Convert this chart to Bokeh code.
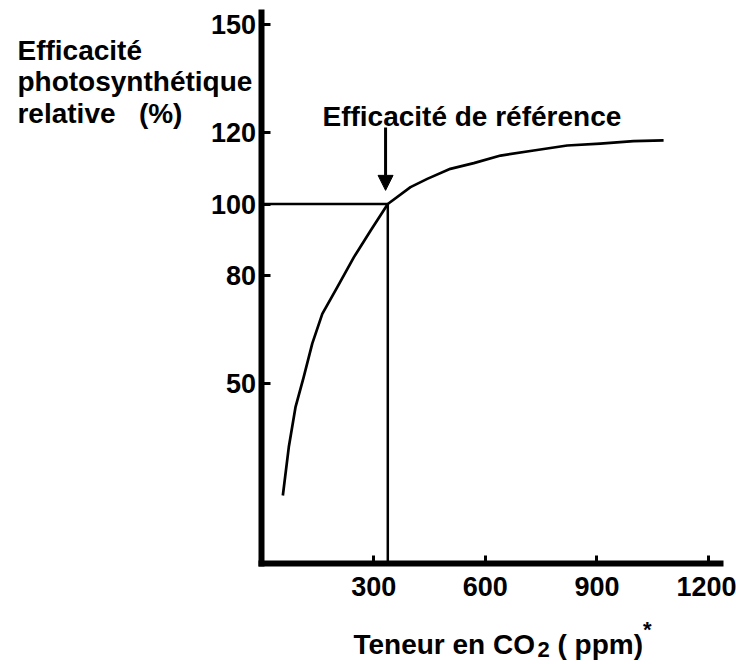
from bokeh.plotting import figure
from bokeh.models import Range1d, FixedTicker, Label, Arrow, NormalHead
from bokeh.embed import file_html
from bokeh.resources import INLINE

# ---- data ----
co2 = [56, 72, 90, 112, 135, 162, 202, 247, 292, 338, 399, 444, 506, 569, 641, 730, 820, 909, 998, 1079]
efficacite = [18.8, 32.3, 43.4, 51.8, 61.1, 69.4, 76.8, 85.2, 92.6, 100, 104.7, 107.0, 109.8, 111.4,
              113.5, 114.9, 116.3, 116.8, 117.5, 117.7]
ref_co2 = 338
ref_eff = 100
x_ticks = [300, 600, 900, 1200]
y_ticks = [50, 80, 100, 120, 150]

FONT = "Liberation Sans"
FS = "27px"
TS = "28px"

p = figure(width=736, height=664, output_backend="svg", toolbar_location=None,
           x_range=Range1d(-702.6, 1274.9), y_range=Range1d(-28.27, 156.69),
           min_border=0)
p.grid.visible = False
p.outline_line_color = None
p.background_fill_color = "white"
p.border_fill_color = "white"

for ax in (p.xaxis[0], p.yaxis[0]):
    ax.fixed_location = 0
    ax.axis_line_width = 6
    ax.axis_line_color = "black"
    ax.axis_line_cap = "square"
    ax.major_tick_line_width = 3
    ax.major_tick_line_color = "black"
    ax.major_tick_out = 0
    ax.minor_tick_line_color = None
    ax.major_label_text_font = FONT
    ax.major_label_text_font_style = "bold"
    ax.major_label_text_font_size = FS
    ax.major_label_text_color = "black"

p.xaxis.bounds = (0, 1232)
p.yaxis.bounds = (0, 153.3)
p.xaxis.ticker = FixedTicker(ticks=x_ticks)
p.yaxis.ticker = FixedTicker(ticks=y_ticks)
p.xaxis.major_tick_in = 8
p.yaxis.major_tick_in = 9
p.xaxis.major_label_standoff = 14
p.yaxis.major_label_standoff = 6

# reference lines
p.line([0, ref_co2], [ref_eff, ref_eff], line_color="black", line_width=2.5)
p.line([ref_co2, ref_co2], [0, ref_eff], line_color="black", line_width=2.5)

# curve
p.line(co2, efficacite, line_color="black", line_width=2.7, line_join="round")

# arrow
p.add_layout(Arrow(end=NormalHead(size=15, fill_color="black", line_color="black"),
                   x_start=332, y_start=121.3, x_end=332, y_end=103.8,
                   line_width=3, line_color="black"))

def lab(x, y, text, size=TS, baseline="alphabetic"):
    p.add_layout(Label(x=x, y=y, text=text, text_font=FONT, text_font_style="bold",
                       text_font_size=size, text_color="black",
                       text_baseline=baseline, text_align="left"))

# annotation
lab(162.5, 124.5, "Efficacité de référence")

# y-axis title (three lines, top left)
lab(-657, 142.8, "Efficacité")
lab(-657, 134.0, "photosynthétique")
lab(-657, 125.2, "relative\u00a0\u00a0\u00a0(%)")

# x-axis title with subscript and asterisk
lab(245.8, -22.7, "Teneur en CO")
lab(740, -24.2, "2", size="22px")
lab(794, -22.7, "( ppm)")
lab(1024, -18.6, "*", size="22px")

open("out.html", "w").write(file_html(p, INLINE))
